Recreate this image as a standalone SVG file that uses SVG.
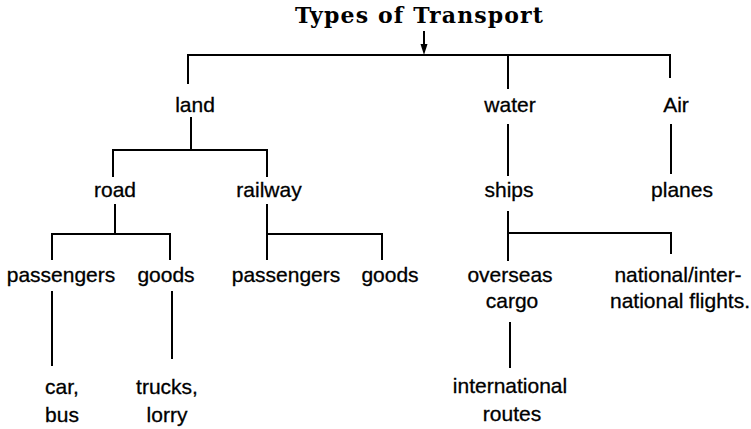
<svg xmlns="http://www.w3.org/2000/svg" width="751" height="429" viewBox="0 0 751 429">
<style>
.t{font-family:"Liberation Sans",Arial,sans-serif;font-size:21px;fill:#000;stroke:#000;stroke-width:0.3;text-anchor:middle}
.title{font-family:"DejaVu Serif","Liberation Serif",serif;font-weight:bold;font-size:22px;fill:#000;text-anchor:middle}
.c line{stroke:#000;stroke-width:2;stroke-linecap:square}
</style>
<rect width="751" height="429" fill="#fff"/>
<g id="title"><text class="title" x="419" y="23" textLength="248" lengthAdjust="spacing">Types of Transport</text></g>
<g id="connectors" class="c">
<line x1="424" y1="32" x2="424" y2="46"/>
<polygon points="420.5,44 427.5,44 424,55" fill="#000"/>
<line x1="188" y1="55" x2="670" y2="55"/>
<line x1="188" y1="55" x2="188" y2="83"/>
<line x1="508" y1="55" x2="508" y2="88"/>
<line x1="670" y1="55" x2="670" y2="77"/>
<line x1="191" y1="118" x2="191" y2="150"/>
<line x1="113" y1="150" x2="267" y2="150"/>
<line x1="113" y1="150" x2="113" y2="176"/>
<line x1="267" y1="150" x2="267" y2="176"/>
<line x1="508" y1="125" x2="508" y2="175"/>
<line x1="671" y1="125" x2="671" y2="173"/>
<line x1="115" y1="205" x2="115" y2="234"/>
<line x1="52" y1="234" x2="170" y2="234"/>
<line x1="52" y1="234" x2="52" y2="259"/>
<line x1="170" y1="234" x2="170" y2="259"/>
<line x1="267" y1="205" x2="267" y2="259"/>
<line x1="267" y1="234" x2="382" y2="234"/>
<line x1="382" y1="234" x2="382" y2="259"/>
<line x1="508" y1="212" x2="508" y2="260"/>
<line x1="508" y1="233" x2="671" y2="233"/>
<line x1="671" y1="233" x2="671" y2="253"/>
<line x1="52" y1="292" x2="52" y2="365"/>
<line x1="172" y1="292" x2="172" y2="358"/>
<line x1="510" y1="323" x2="510" y2="367"/>
</g>
<g id="land"><text class="t" x="195" y="112">land</text></g>
<g id="water"><text class="t" x="510" y="112">water</text></g>
<g id="air"><text class="t" x="676" y="112">Air</text></g>
<g id="road"><text class="t" x="115" y="197">road</text></g>
<g id="railway"><text class="t" x="269" y="197">railway</text></g>
<g id="ships"><text class="t" x="509" y="197">ships</text></g>
<g id="planes"><text class="t" x="682" y="197">planes</text></g>
<g id="road-passengers"><text class="t" x="61" y="282">passengers</text></g>
<g id="road-goods"><text class="t" x="166" y="282">goods</text></g>
<g id="rail-passengers"><text class="t" x="286" y="282">passengers</text></g>
<g id="rail-goods"><text class="t" x="390" y="282">goods</text></g>
<g id="overseas-cargo"><text class="t" x="510" y="282">overseas</text><text class="t" x="512" y="308">cargo</text></g>
<g id="flights"><text class="t" x="678" y="282">national/inter-</text><text class="t" x="680" y="308">national flights.</text></g>
<g id="car-bus"><text class="t" x="62" y="394">car,</text><text class="t" x="62" y="422">bus</text></g>
<g id="trucks-lorry"><text class="t" x="167" y="394">trucks,</text><text class="t" x="167" y="422">lorry</text></g>
<g id="international-routes"><text class="t" x="510" y="393">international</text><text class="t" x="512" y="421">routes</text></g>
</svg>
